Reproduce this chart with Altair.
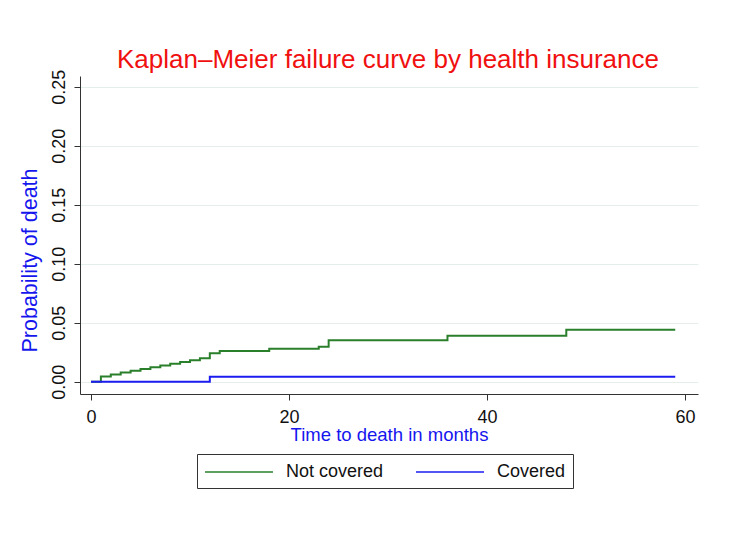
import altair as alt
import pandas as pd

# ---- data ----
title_text = "Kaplan\u2013Meier failure curve by health insurance"
groups = ["Not covered", "Covered"]
colors = ["#2a7f2a", "#1c1cf0"]

nc_time = [0, 1, 2, 3, 4, 5, 6, 7, 8, 9, 10, 11, 12, 13, 18, 23, 24, 36, 48, 59]
nc_prob = [0.0, 0.0044, 0.0062, 0.0079, 0.0094, 0.0108, 0.0123, 0.0138, 0.0152,
           0.0167, 0.0182, 0.0198, 0.0241, 0.0260, 0.0280, 0.0296, 0.0351,
           0.0390, 0.0441, 0.0441]

cv_time = [0, 12, 59]
cv_prob = [0.0, 0.0042, 0.0042]

y_ticks = [0.0, 0.05, 0.10, 0.15, 0.20, 0.25]
x_ticks = [0, 20, 40, 60]

df = pd.concat([
    pd.DataFrame({"time": nc_time, "prob": nc_prob, "group": groups[0]}),
    pd.DataFrame({"time": cv_time, "prob": cv_prob, "group": groups[1]}),
], ignore_index=True)

FONT = "Liberation Sans"
W, H = 618, 318

lines = alt.Chart(df).mark_line(interpolate="step-after", strokeWidth=2).encode(
    x=alt.X("time:Q",
            scale=alt.Scale(domain=[-1.11, 61.3], nice=False, zero=False),
            axis=alt.Axis(values=x_ticks, title="Time to death in months",
                          grid=False, labelFontSize=18, labelFont=FONT,
                          labelColor="#111111", labelBaseline="alphabetic",
                          labelPadding=22, tickSize=6, tickColor="#333333",
                          domainColor="#333333", titleFont=FONT,
                          titleFontSize=18.5, titleFontWeight="normal",
                          titleColor="#1515ee", titleBaseline="alphabetic",
                          titleY=46, titleX=W / 2, titleAlign="center")),
    y=alt.Y("prob:Q",
            scale=alt.Scale(domain=[-0.0104, 0.2591], nice=False, zero=False),
            axis=alt.Axis(values=y_ticks, format=".2f",
                          title="Probability of death",
                          grid=True, gridColor="#e6eded", gridWidth=1,
                          labelFontSize=18, labelFont=FONT, labelColor="#111111",
                          labelAngle=270, labelAlign="center",
                          labelBaseline="alphabetic", labelPadding=10,
                          tickSize=6, tickColor="#333333",
                          domainColor="#333333", titleFont=FONT,
                          titleFontSize=21.5, titleFontWeight="normal",
                          titleColor="#1515ee", titleAngle=270,
                          titleAlign="center", titleBaseline="middle",
                          titleX=-50, titleY=184)),
    color=alt.Color("group:N",
                    scale=alt.Scale(domain=groups, range=colors),
                    legend=alt.Legend(title=None, orient="none",
                                      legendX=117, legendY=378,
                                      direction="horizontal",
                                      symbolType="M-1,0H5.8", symbolSize=400,
                                      symbolStrokeWidth=1.5,
                                      labelFontSize=18, labelFont=FONT,
                                      labelColor="#111111", labelOffset=60,
                                      columnPadding=29, padding=7,
                                      strokeColor="#333333",
                                      fillColor="#ffffff")),
)

title_df = pd.DataFrame({"t": [title_text]})
title_mark = alt.Chart(title_df).mark_text(
    font=FONT, fontSize=26, color="#f01010", align="center",
    baseline="alphabetic"
).encode(text="t:N", x=alt.value(W / 2 - 1), y=alt.value(-8))

chart = alt.layer(lines, title_mark).properties(
    width=W, height=H,
    autosize=alt.AutoSizeParams(type="none"),
    padding={"left": 72, "top": 68, "right": 35, "bottom": 137},
    background="#ffffff",
).configure_view(stroke=None)

chart.save("out.html", embed_options={"renderer": "svg", "actions": False})
